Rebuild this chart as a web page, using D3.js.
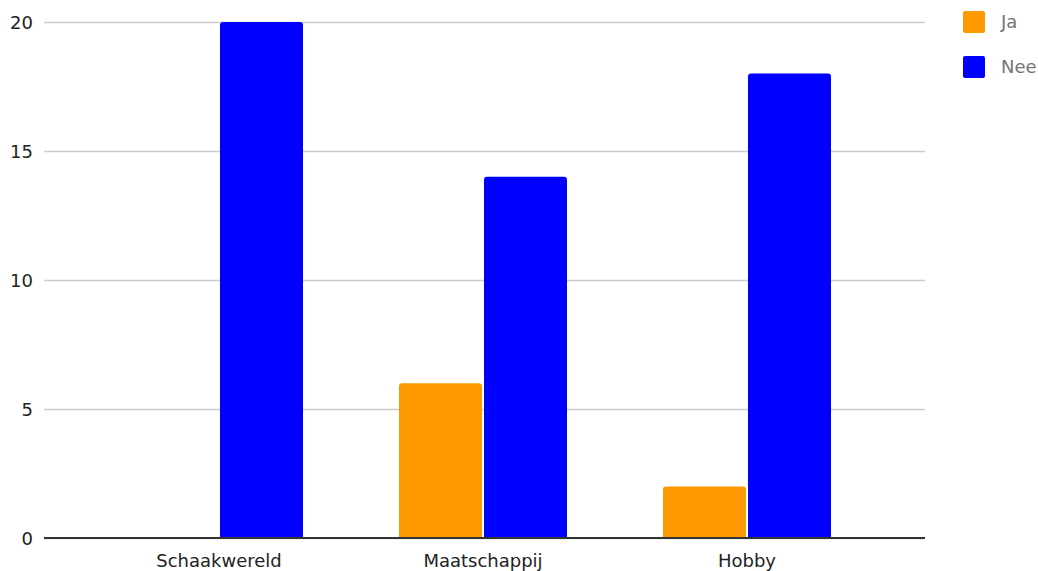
<!DOCTYPE html>
<html>
<head>
<meta charset="utf-8">
<script src="https://cdn.jsdelivr.net/npm/d3@7"></script>
<style>
  html, body { margin: 0; padding: 0; background: #fff; }
  svg { display: block; font-family: "DejaVu Sans", Verdana, sans-serif; }
</style>
</head>
<body>
<svg id="chart" width="1038" height="571"></svg>
<script>
// Survey answers per topic
const categories = ["Schaakwereld", "Maatschappij", "Hobby"];
const seriesNames = ["Ja", "Nee"];
const jaValues = [0, 6, 2];
const neeValues = [20, 14, 18];
const yTicks = [0, 5, 10, 15, 20];
const seriesColors = ["#ff9900", "#0000ff"];

const FONT = "'DejaVu Sans', Verdana, sans-serif";
const svg = d3.select("#chart");
const plot = { left: 44, right: 925, top: 22, bottom: 538 };

const x0 = d3.scaleBand().domain(categories).range([87, 879]).padding(0);
const groupWidth = 168;
const x1 = d3.scaleBand().domain(seriesNames).range([0, groupWidth]).paddingInner(0.0235).paddingOuter(0);
const y = d3.scaleLinear().domain([0, 20]).range([plot.bottom, plot.top]);
const color = d3.scaleOrdinal().domain(seriesNames).range(seriesColors);

// Horizontal gridlines and value labels
const yAxis = d3.axisLeft(y).tickValues(yTicks).tickSize(-(plot.right - plot.left)).tickPadding(11);
const gy = svg.append("g").attr("transform", `translate(${plot.left},0)`).call(yAxis)
  .attr("font-family", FONT).attr("font-size", 18);
gy.select(".domain").remove();
gy.selectAll(".tick line").attr("stroke", "#cccccc").attr("stroke-width", 1.5);
gy.selectAll(".tick text").attr("fill", "#222").attr("dy", "0.35em");

// Bars
const rows = categories.map((c, i) => ({ cat: c, values: [jaValues[i], neeValues[i]] }));
const groups = svg.append("g").selectAll("g").data(rows).join("g")
  .attr("transform", d => `translate(${x0(d.cat) + (x0.bandwidth() - groupWidth) / 2},0)`);

groups.selectAll("path").data(d => d.values.map((v, j) => ({ name: seriesNames[j], v })).filter(d => d.v > 0))
  .join("path")
  .attr("fill", d => color(d.name))
  .attr("d", d => {
    const bx = x1(d.name), bw = x1.bandwidth();
    const top = y(d.v), bot = y(0), r = 3;
    return `M${bx},${bot}V${top + r}Q${bx},${top} ${bx + r},${top}H${bx + bw - r}Q${bx + bw},${top} ${bx + bw},${top + r}V${bot}Z`;
  });

// Baseline
svg.append("line")
  .attr("x1", plot.left).attr("x2", plot.right)
  .attr("y1", y(0)).attr("y2", y(0))
  .attr("stroke", "#333").attr("stroke-width", 2);

// Category labels
const xAxis = d3.axisBottom(x0).tickSize(0).tickPadding(16);
const gx = svg.append("g").attr("transform", `translate(0,${plot.bottom})`).call(xAxis)
  .attr("font-family", FONT).attr("font-size", 18);
gx.select(".domain").remove();
gx.selectAll(".tick text").attr("fill", "#222");

// Legend
const legend = svg.append("g").attr("transform", "translate(963,11)")
  .attr("font-family", FONT).attr("font-size", 18);
const li = legend.selectAll("g").data(seriesNames).join("g")
  .attr("transform", (d, i) => `translate(0,${i * 45})`);
li.append("rect").attr("width", 22).attr("height", 22).attr("rx", 2)
  .attr("fill", d => color(d));
li.append("text").attr("x", 38).attr("y", 11).attr("dy", "0.35em")
  .attr("fill", "#757575").text(d => d);
</script>
</body>
</html>
